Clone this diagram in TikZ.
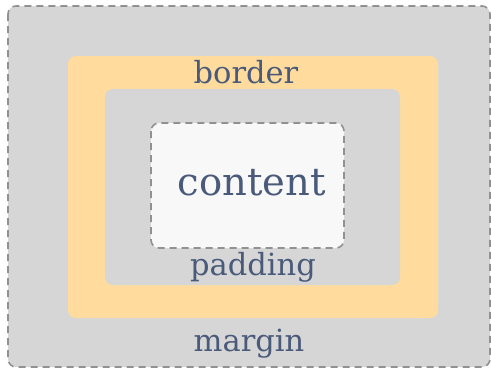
\documentclass[tikz,border=0pt]{standalone}
\usepackage{fontspec}
\setmainfont{DejaVu Serif}
\usepackage{xcolor}
\definecolor{boxgray}{RGB}{214,214,214}
\definecolor{boxorange}{RGB}{255,220,158}
\definecolor{boxwhite}{RGB}{248,248,248}
\definecolor{dashgray}{RGB}{145,145,145}
\definecolor{labelblue}{RGB}{74,90,122}
\usetikzlibrary{positioning}
\tikzset{
  layer/.style={rounded corners=8pt, draw=none},
  dashedge/.style={draw=dashgray, dashed, dash pattern=on 7pt off 5pt, line width=1.6pt},
  boxlabel/.style={font=\fontsize{30.5}{31}\selectfont, text=labelblue, inner sep=0pt}
}
\begin{document}
\begin{tikzpicture}[x=1pt, y=-1pt]
      \useasboundingbox (0,0) rectangle (491,370);
      % margin
      \draw[layer, fill=boxgray, dashedge] (8,6) rectangle (490,367);
      % border
      \fill[layer, fill=boxorange] (68,56) rectangle (438,318);
      % padding
      \fill[layer, fill=boxgray] (105,89) rectangle (400,285);
      % content
      \draw[layer, fill=boxwhite, dashedge] (151,123) rectangle (344,248);
      % labels
      \node[boxlabel] (border) at (246,72) {border};
      \node[boxlabel, font=\fontsize{38.5}{39}\selectfont] (content) at (252,183) {content};
      \node[boxlabel] (padding) at (253,267) {padding};
      \node[boxlabel] (margin) at (249,344) {margin};
    \end{tikzpicture}
\end{document}
